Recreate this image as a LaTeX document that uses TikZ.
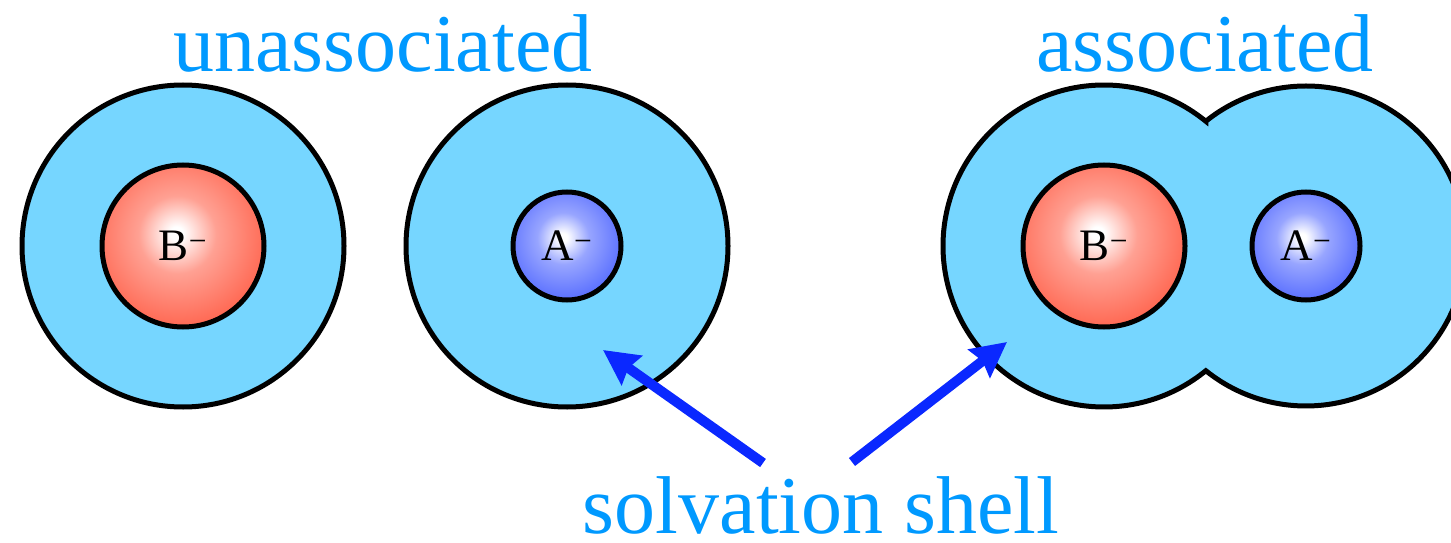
\documentclass[tikz,border=0pt]{standalone}
\usepackage{fontspec}
\setmainfont{Liberation Serif}
\usetikzlibrary{arrows.meta,calc}
\definecolor{shell}{RGB}{118,214,255}
\definecolor{ionred}{RGB}{255,45,15}
\definecolor{ionblue}{RGB}{25,55,255}
\definecolor{arrowblue}{RGB}{10,40,255}
\definecolor{labelblue}{RGB}{0,153,255}
\pgfdeclareradialshading{redball}{\pgfpoint{-2bp}{4bp}}{color(0bp)=(white); color(2bp)=(white); color(12bp)=(ionred!45!white); color(28bp)=(ionred!72!white); color(42bp)=(ionred!92!white); color(50bp)=(ionred); color(100bp)=(ionred)}
\pgfdeclareradialshading{blueball}{\pgfpoint{-2bp}{4bp}}{color(0bp)=(white); color(2bp)=(white); color(12bp)=(ionblue!45!white); color(28bp)=(ionblue!72!white); color(42bp)=(ionblue!92!white); color(50bp)=(ionblue); color(100bp)=(ionblue)}
\tikzset{
  shellcirc/.style={circle, draw=black, line width=5pt, fill=shell, minimum size=322pt, inner sep=0pt},
  bigion/.style={circle, draw=black, line width=5pt, minimum size=162pt, inner sep=0pt, shading=redball, font=\fontsize{45}{50}\selectfont},
  smallion/.style={circle, draw=black, line width=5pt, minimum size=108pt, inner sep=0pt, shading=blueball, font=\fontsize{45}{50}\selectfont},
  biglabel/.style={text=labelblue, font=\fontsize{82}{90}\selectfont, anchor=base, inner sep=0pt},
  pointer/.style={draw=arrowblue, line width=10pt, -{Stealth[length=35pt,width=35pt,inset=4pt]}},
}
\begin{document}
\begin{tikzpicture}[x=1pt,y=1pt]
\useasboundingbox (0,0) rectangle (1451,542);
\begin{scope}
\clip (0,0) rectangle (1451,542);
% unassociated
\node[shellcirc] (S1) at (183,296) {};
\node[shellcirc] (S2) at (567,296) {};
\node[bigion] (B1) at (183,296) {B\textsuperscript{−}};
\node[smallion] (A1) at (567,296) {A\textsuperscript{−}};
% associated pair
\coordinate (cB) at (1104,296);
\coordinate (cA) at (1306,296);
\path[fill=shell, draw=black, line width=5pt, line join=miter]
  ($(cB)+(50.77:161)$) arc[start angle=50.77, end angle=309.23, radius=161]
  arc[start angle=-128.78, end angle=128.78, radius=160] -- cycle;
\node[bigion] (B2) at (cB) {B\textsuperscript{−}};
\node[smallion] (A2) at (cA) {A\textsuperscript{−}};
\end{scope}
% labels
\node[biglabel] (L1) at (383,470) {unassociated};
\node[biglabel] (L2) at (1205,470) {associated};
\node[biglabel] (L3) at (821,9) {solvation shell};
% arrows
\coordinate (p1) at (763,79);
\coordinate (t1) at (603,192);
\coordinate (p2) at (852,80);
\coordinate (t2) at (1007,200);
\draw[pointer] (p1) -- (t1);
\draw[pointer] (p2) -- (t2);
\end{tikzpicture}
\end{document}
